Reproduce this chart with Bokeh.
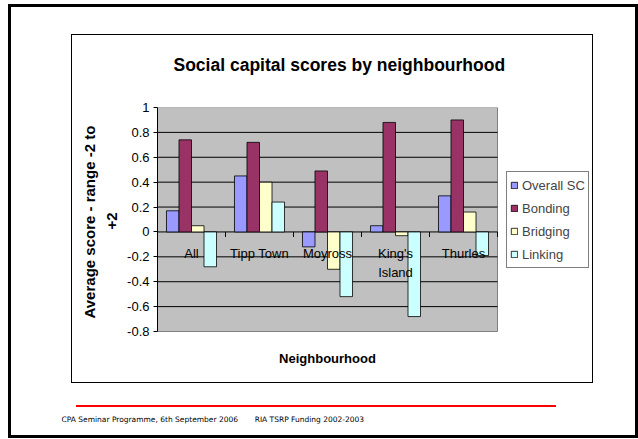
from bokeh.plotting import figure
from bokeh.models import (Range1d, FixedTicker, CustomJSTickFormatter,
                          ColumnDataSource, Legend, LegendItem, Title, Label)
from bokeh.core.properties import value
from bokeh.embed import file_html
from bokeh.resources import INLINE

# ---------------- data ----------------
categories = ["All", "Tipp Town", "Moyross", "King's Island", "Thurles"]
category_labels = ["All", "Tipp Town", "Moyross", "King's\nIsland", "Thurles"]
series_names = ["Overall SC", "Bonding", "Bridging", "Linking"]
overall_sc = [0.17, 0.45, -0.12, 0.05, 0.29]
bonding = [0.74, 0.72, 0.49, 0.88, 0.90]
bridging = [0.05, 0.40, -0.30, -0.03, 0.16]
linking = [-0.28, 0.24, -0.52, -0.68, -0.19]
y_ticks = [-0.8, -0.6, -0.4, -0.2, 0, 0.2, 0.4, 0.6, 0.8, 1]
title_text = "Social capital scores by neighbourhood"
y_title_lines = ["Average score - range -2 to", "+2"]
x_title = "Neighbourhood"
footer_left = "CPA Seminar Programme, 6th September 2006"
footer_right = "RIA TSRP Funding 2002-2003"

# ---------------- layout constants ----------------
W, H = 638, 439
PL, PR, PT, PB = 157, 497, 107, 331      # grey plot area in canvas pixels
FR, FB = 593, 400                         # frame extends right (legend) and down (x title)
FONT = "Liberation Sans"

colors = ["#9999FF", "#993366", "#FFFFCC", "#CCFFFF"]
cols = ["overall", "bonding", "bridging", "linking"]
bar_w = 0.184
offsets = [-1.5 * bar_w, -0.5 * bar_w, 0.5 * bar_w, 1.5 * bar_w]

n = len(categories)
centers = [i + 0.5 for i in range(n)]
data = dict(cat=categories, label=category_labels, xc=centers,
            xb=[i + 1 for i in range(n)], ly=[-0.113] * n)
for col, vals, off in zip(cols, [overall_sc, bonding, bridging, linking], offsets):
    data[col] = vals
    data[col + "_x"] = [c + off for c in centers]
src = ColumnDataSource(data)

y0, y1 = y_ticks[0], y_ticks[-1]
px_per_unit = (PB - PT) / (y1 - y0)
x_end = n * (FR - PL) / (PR - PL)
y_start = y0 - (FB - PB) / px_per_unit


def line(color, x, y, w, h):
    return f"linear-gradient({color},{color}) {x}px {y}px / {w}px {h}px no-repeat"


# slide decorations drawn as CSS background of the figure element
deco = ", ".join([
    line("#000", 8, 4, 630, 3), line("#000", 8, 435, 630, 3),
    line("#000", 8, 4, 3, 434), line("#000", 635, 4, 3, 434),
    line("#000", 71, 34, 522, 1), line("#000", 71, 382, 522, 1),
    line("#000", 71, 34, 1, 349), line("#000", 592, 34, 1, 349),
    line("#FF0000", 76, 405, 480, 2),
])

p = figure(width=W, height=H, x_range=Range1d(0, x_end), y_range=Range1d(y_start, y1),
           output_backend="svg", toolbar_location=None, x_axis_location=None,
           min_border_left=PL, min_border_right=W - FR,
           min_border_top=PT, min_border_bottom=H - FB,
           styles={"background": deco, "background-color": "white"})

p.background_fill_color = None
p.border_fill_color = None
p.outline_line_color = None
p.grid.visible = False

# title
p.title.text = title_text
p.title.align = "left"
p.title.offset = 16
p.title.text_color = "black"
p.title.text_font = FONT
p.title.text_font_size = "17.5px"
p.title.text_font_style = "bold"
p.title.standoff = 66

# y axis
p.yaxis.bounds = (y0, y1)
p.yaxis.ticker = FixedTicker(ticks=y_ticks)
p.yaxis.formatter = CustomJSTickFormatter(code="return (Math.round(tick*10)/10).toString();")
p.yaxis.major_label_text_font = FONT
p.yaxis.major_label_text_font_size = "13px"
p.yaxis.major_label_text_color = "black"
p.yaxis.axis_line_color = "black"
p.yaxis.major_tick_line_color = "black"
p.yaxis.major_tick_out = 4
p.yaxis.major_tick_in = 0
p.yaxis.minor_tick_line_color = None
p.yaxis.major_label_standoff = 4

# y title, two lines, stacked outward from the axis; text starts (bottom) at FB - offset
for txt, so, start in [(y_title_lines[1], 15, 229), (y_title_lines[0], 0, 318)]:
    p.add_layout(Title(text=txt, align="left", offset=FB - start, text_font=FONT,
                       text_font_size="15px", text_font_style="bold",
                       text_color="black", standoff=so), "left")

# grey plot area and horizontal gridlines
p.quad(left=0, right=n, bottom=y0, top=y1, fill_color="#C0C0C0",
       line_color="#808080", line_width=1)
inner = y_ticks[1:-1]
p.segment(x0=[0] * len(inner), x1=[n] * len(inner), y0=inner, y1=inner,
          line_color="black", line_width=1)

# bars
renderers = []
for col, c in zip(cols, colors):
    r = p.vbar(x=col + "_x", top=col, bottom=0, width=bar_w, source=src,
               fill_color=c, line_color="black", line_width=0.8)
    renderers.append(r)

# category axis ticks on the zero line
p.segment(x0="xb", y0=0, x1="xb", y1=-0.04, source=src, line_color="black", line_width=1)

# category labels
p.text(x="xc", y="ly", text="label", source=src, text_align="center",
       text_baseline="top", text_font=value(FONT), text_font_size="13px",
       text_line_height=1.25, text_color="black")

# x title
p.add_layout(Label(x=327 - PL, y=FB - 358, x_units="screen", y_units="screen",
                   text=x_title, text_align="center", text_baseline="middle",
                   text_font=FONT, text_font_size="13px", text_font_style="bold",
                   text_color="black"))

# legend
lg = Legend(items=[LegendItem(label=s, renderers=[r]) for s, r in zip(series_names, renderers)],
            location=(506 - PL, FB - 268))
lg.border_line_color = "black"
lg.border_line_width = 1
lg.background_fill_color = "white"
lg.background_fill_alpha = 1
lg.label_text_font = FONT
lg.label_text_font_size = "13px"
lg.glyph_width = 8
lg.glyph_height = 8
lg.label_height = 20
lg.spacing = 3
lg.padding = 3
lg.margin = 0
lg.label_standoff = 4
p.add_layout(lg)

# footer
footer = footer_left + "\u00a0" * 7 + footer_right
p.add_layout(Title(text=footer, align="left", offset=61 - PL, text_font="DejaVu Sans",
                   text_font_size="7.5px", text_font_style="normal", text_color="black",
                   standoff=24), "below")

open("out.html", "w").write(file_html(p, INLINE))
